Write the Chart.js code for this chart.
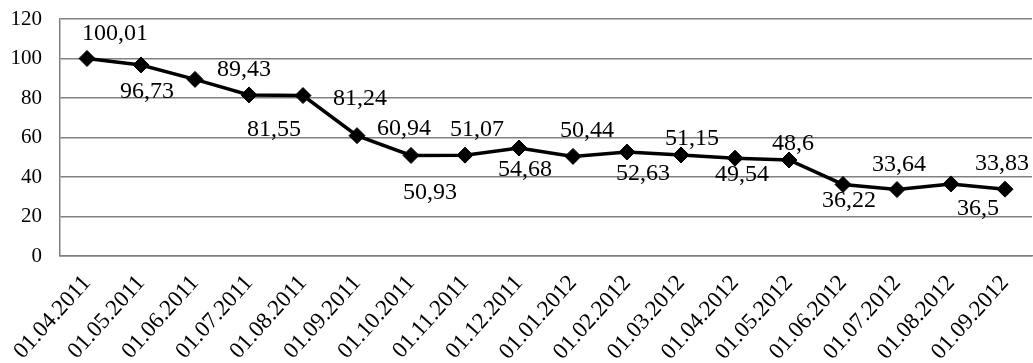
<!DOCTYPE html>
<html>
<head>
<meta charset="utf-8">
<script src="https://cdn.jsdelivr.net/npm/chart.js@4/dist/chart.umd.min.js"></script>
<style>
  html, body { margin: 0; padding: 0; background: #fff; }
  canvas { display: block; }
</style>
</head>
<body>
<canvas id="chart" width="1033" height="363"></canvas>
<script>
// Dates of observation
const categories = [
  '01.04.2011', '01.05.2011', '01.06.2011', '01.07.2011', '01.08.2011', '01.09.2011',
  '01.10.2011', '01.11.2011', '01.12.2011', '01.01.2012', '01.02.2012', '01.03.2012',
  '01.04.2012', '01.05.2012', '01.06.2012', '01.07.2012', '01.08.2012', '01.09.2012'
];

// Index values
const values = [
  100.01, 96.73, 89.43, 81.55, 81.24, 60.94,
  50.93, 51.07, 54.68, 50.44, 52.63, 51.15,
  49.54, 48.6, 36.22, 33.64, 36.5, 33.83
];

// Y axis ticks
const yTicks = [0, 20, 40, 60, 80, 100, 120];

// Value label placement (offset of the label centre from its point, px)
const labelOffsets = [
  [28, -27], [6, 25], [49, -12], [25, 33], [57, 1], [47, -9],
  [19, 35], [12, -27], [6, 20], [14, -28], [16, 20], [11, -18],
  [7, 15], [4, -18], [6, 14], [2, -27], [27, 23], [-3, -27]
];

const SERIF = '"Liberation Serif", "Times New Roman", serif';
const LABEL_SIZE = 24;

const valueLabels = {
  id: 'valueLabels',
  afterDatasetsDraw(chart) {
    const ctx = chart.ctx;
    const meta = chart.getDatasetMeta(0);
    ctx.save();
    ctx.font = LABEL_SIZE + 'px ' + SERIF;
    ctx.fillStyle = '#000';
    ctx.textAlign = 'center';
    ctx.textBaseline = 'alphabetic';
    meta.data.forEach((pt, i) => {
      const [dx, dy] = labelOffsets[i];
      const text = String(values[i]).replace('.', ',');
      ctx.fillText(text, pt.x + dx, pt.y + dy + LABEL_SIZE * 0.34);
    });
    ctx.restore();
  }
};

new Chart(document.getElementById('chart'), {
  type: 'line',
  data: {
    labels: categories,
    datasets: [{
      data: values,
      borderColor: '#000',
      backgroundColor: '#000',
      borderWidth: 3.5,
      pointStyle: 'rectRot',
      pointRadius: 8,
      pointBorderWidth: 1,
      pointBackgroundColor: '#000',
      pointBorderColor: '#000',
      tension: 0,
      fill: false
    }]
  },
  options: {
    responsive: false,
    animation: false,
    devicePixelRatio: 1,
    layout: { autoPadding: false, padding: { top: 19, right: 1, left: 0, bottom: 0 } },
    plugins: {
      legend: { display: false },
      tooltip: { enabled: false }
    },
    scales: {
      x: {
        offset: true,
        grid: { display: false, drawTicks: false },
        border: { display: true, color: '#808080', width: 1.5 },
        ticks: {
          font: { family: SERIF, size: 23 },
          color: '#000',
          minRotation: 48,
          maxRotation: 48,
          autoSkip: false,
          padding: 14
        },
        afterFit(scale) {
          scale.height = 107;
          scale.paddingLeft = 0;
          scale.paddingRight = 0;
        }
      },
      y: {
        min: 0,
        max: 120,
        afterBuildTicks(scale) { scale.ticks = yTicks.map(v => ({ value: v })); },
        grid: { color: '#808080', lineWidth: 1.5, drawTicks: false },
        border: { display: true, color: '#808080', width: 1.5 },
        ticks: {
          font: { family: SERIF, size: 21 },
          color: '#000',
          padding: 18
        },
        afterFit(scale) {
          scale.width = 60;
          scale.paddingTop = 0;
          scale.paddingBottom = 0;
        }
      }
    }
  },
  plugins: [valueLabels]
});
</script>
</body>
</html>
